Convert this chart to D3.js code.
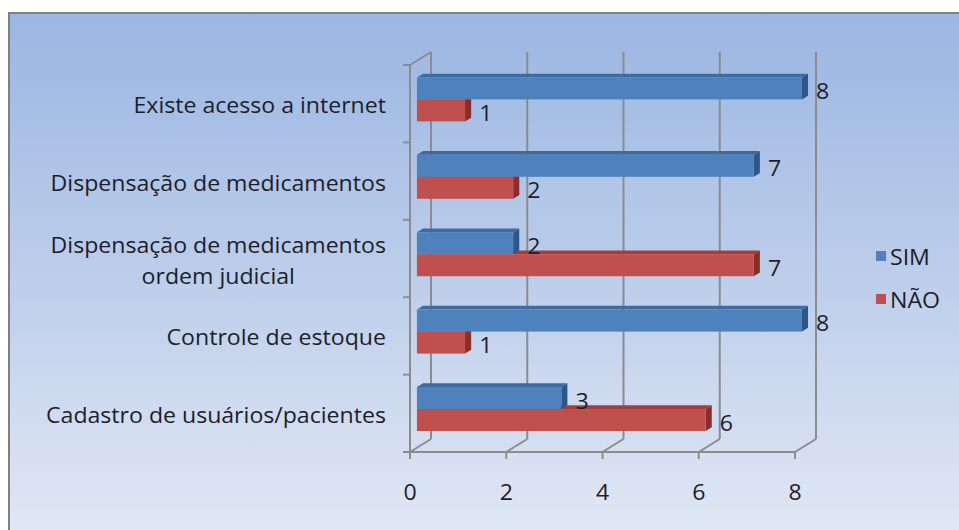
<!DOCTYPE html>
<html><head><meta charset="utf-8">
<script src="https://cdn.jsdelivr.net/npm/d3@7"></script>
<style>
body{margin:0;background:#fff}
svg{display:block}
text{font-family:"Open Sans",Lato,sans-serif;fill:#1c1e2a}
</style>
</head><body>
<svg id="chart" width="959" height="530"></svg>
<script>
// Survey answers per item
const categories = [
  "Existe acesso a internet",
  "Dispensação de medicamentos",
  "Dispensação de medicamentos\nordem judicial",
  "Controle de estoque",
  "Cadastro de usuários/pacientes"
];
const seriesNames = ["SIM", "NÃO"];
const simValues = [8, 7, 2, 8, 3];
const naoValues = [1, 2, 7, 1, 6];
const xTickValues = [0, 2, 4, 6, 8];
const seriesColors = {
  "SIM": {front: "#4f81bd", top: "#3d6ba3", side: "#2d5787"},
  "NÃO": {front: "#c0504d", top: "#a23f3c", side: "#8a2e2b"}
};

const svg = d3.select("#chart");
const W = 959, H = 530;
const FS = 21;       // text size
const STRETCH = 1.1; // horizontal text stretch

// Background panel with gradient
const defs = svg.append("defs");
const bg = defs.append("linearGradient").attr("id", "bg").attr("x1", 0).attr("y1", 0).attr("x2", 0).attr("y2", 1);
bg.append("stop").attr("offset", "0%").attr("stop-color", "#9bb6e2");
bg.append("stop").attr("offset", "50%").attr("stop-color", "#bccdea");
bg.append("stop").attr("offset", "100%").attr("stop-color", "#e0e7f4");
svg.append("rect").attr("x", 9).attr("y", 13).attr("width", W - 9).attr("height", H - 13).attr("fill", "url(#bg)");
svg.append("path").attr("d", `M9,${H} V13 H${W}`).attr("fill", "none").attr("stroke", "#7d8088").attr("stroke-width", 2);

// Places a text at (px, py), stretched horizontally about its anchor
function addText(g, px, py, str, anchor) {
  return g.append("text")
    .attr("transform", `translate(${px},${py}) scale(${STRETCH},1)`)
    .attr("text-anchor", anchor || "start")
    .attr("dominant-baseline", "central")
    .attr("font-size", FS)
    .text(str);
}

// Front plane scales
const x = d3.scaleLinear().domain([0, 8]).range([410, 795]);
const y = d3.scaleBand().domain(categories).range([65, 452]);
const ys = d3.scaleBand().domain(seriesNames).range([0, y.bandwidth()]).paddingOuter(0.76);

// Oblique depth projection
const DX = 21, DY = -13;
const proj = (px, py, d) => [px + DX * d, py + DY * d];

const gridColor = "#8a8c90";
const grid = svg.append("g").attr("stroke", gridColor).attr("stroke-width", 2).attr("fill", "none");
const floorY = 452, topY = 65;

// back wall vertical gridlines
xTickValues.forEach(t => {
  const [bx, by0] = proj(x(t), topY, 1);
  const [, by1] = proj(x(t), floorY, 1);
  grid.append("line").attr("x1", bx).attr("y1", by0).attr("x2", bx).attr("y2", by1);
  // floor diagonal
  grid.append("line").attr("x1", x(t)).attr("y1", floorY).attr("x2", bx).attr("y2", by1);
  // tick below floor
  grid.append("line").attr("x1", x(t)).attr("y1", floorY).attr("x2", x(t)).attr("y2", floorY + 7);
});
// floor front edge
grid.append("line").attr("x1", x(0)).attr("y1", floorY).attr("x2", x(8)).attr("y2", floorY);
// left wall front edge and top
grid.append("line").attr("x1", x(0)).attr("y1", topY).attr("x2", x(0)).attr("y2", floorY);
{
  const [bx, by] = proj(x(0), topY, 1);
  grid.append("line").attr("x1", x(0)).attr("y1", topY).attr("x2", bx).attr("y2", by);
}
// category ticks on left wall
const bounds = categories.map(c => y(c)).concat([y.range()[1]]);
bounds.forEach(b => {
  grid.append("line").attr("x1", x(0) - 7).attr("y1", b).attr("x2", x(0)).attr("y2", b);
});

// Bars
const d1 = 0.33, d2 = 0.62;
const rows = categories.map((c, i) => ({cat: c, SIM: simValues[i], "NÃO": naoValues[i]}));
const barsG = svg.append("g");
rows.forEach(r => {
  // lower bar drawn first so the upper one covers its top face
  ["NÃO", "SIM"].forEach(s => {
    const v = r[s];
    const yT = y(r.cat) + ys(s), yB = yT + ys.bandwidth();
    const x0 = x(0), xv = x(v);
    const [fx0, fyT] = proj(x0, yT, d1), [fxv, fyB] = proj(xv, yB, d1);
    const [bx0, byT] = proj(x0, yT, d2), [bxv, byB] = proj(xv, yB, d2);
    const col = seriesColors[s];
    barsG.append("polygon")
      .attr("points", [[fx0, fyT], [fxv, fyT], [bxv, byT], [bx0, byT]].join(" "))
      .attr("fill", col.top);
    barsG.append("polygon")
      .attr("points", [[fxv, fyT], [bxv, byT], [bxv, byB], [fxv, fyB]].join(" "))
      .attr("fill", col.side);
    barsG.append("rect").attr("x", fx0).attr("y", fyT).attr("width", fxv - fx0).attr("height", fyB - fyT)
      .attr("fill", col.front);
    addText(barsG, bxv + 8, (fyT + fyB) / 2 + 2, v);
  });
});

// Category labels (right-aligned block, lines centred within it)
const labelG = svg.append("g");
categories.forEach(c => {
  const lines = c.split("\n");
  const cy = y(c) + y.bandwidth() / 2 + 1;
  const lh = 31;
  const widths = lines.map(l => {
    const t = labelG.append("text").attr("font-size", FS).text(l);
    const w = t.node().getComputedTextLength() * STRETCH;
    t.remove();
    return w;
  });
  const cx = 386 - Math.max(...widths) / 2;
  lines.forEach((l, k) => addText(labelG, cx, cy + (k - (lines.length - 1) / 2) * lh, l, "middle"));
});

// X axis tick labels
const axisG = svg.append("g");
xTickValues.forEach(t => addText(axisG, x(t), 491, t, "middle"));

// Legend
const legend = svg.append("g");
seriesNames.forEach((s, i) => {
  const ly = 256 + i * 43;
  legend.append("rect").attr("x", 876).attr("y", ly - 5).attr("width", 10).attr("height", 10)
    .attr("fill", seriesColors[s].front);
  addText(legend, 890, ly, s);
});
</script>
</body></html>
